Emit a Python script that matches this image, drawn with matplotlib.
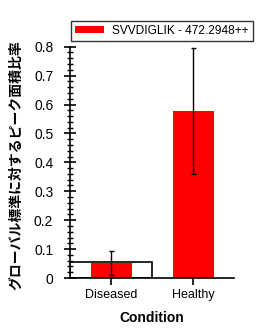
import matplotlib
matplotlib.use('Agg')
import matplotlib.pyplot as plt
from matplotlib.ticker import MultipleLocator, FuncFormatter

conditions = ['Diseased', 'Healthy']
means = [0.053, 0.577]
err_low = [0.010, 0.359]
err_high = [0.094, 0.795]
# white outlined box drawn behind the Diseased bar
box_value = [0.054]
legend_label = 'SVVDIGLIK - 472.2948++'
ylabel_text = 'グローバル標準に対するピーク面積比率'

plt.rcParams['font.family'] = ['Liberation Sans', 'Noto Sans CJK JP', 'DejaVu Sans']

fig = plt.figure(figsize=(2.72, 3.36), dpi=100)
ax = fig.add_axes([70 / 272, 1 - 278 / 336, 164 / 272, 231.3 / 336])

x = list(range(len(conditions)))
ax.bar([0], box_value, width=1.0, color='white', edgecolor='black', linewidth=1.2, zorder=1)
bars = ax.bar(x, means, width=0.5, color='#ff0000', zorder=2, label=legend_label)
yerr = [[m - lo for m, lo in zip(means, err_low)], [hi - m for m, hi in zip(means, err_high)]]
ax.errorbar(x, means, yerr=yerr, fmt='none', ecolor='black', elinewidth=1.0, capsize=1.8, capthick=1.0, zorder=3)

ax.set_xlim(-0.5, 1.5)
ax.set_ylim(0, 0.8)
ax.set_xticks(x)
ax.set_xticklabels(conditions, fontsize=9)
ax.yaxis.set_major_locator(MultipleLocator(0.1))
ax.yaxis.set_minor_locator(MultipleLocator(0.02))
ax.yaxis.set_major_formatter(FuncFormatter(lambda v, p: '%g' % round(v, 2)))
ax.tick_params(axis='y', which='major', direction='inout', length=8, width=1.2, labelsize=10, pad=8)
ax.tick_params(axis='y', which='minor', direction='inout', length=5, width=1.0)
ax.tick_params(axis='x', which='major', direction='inout', length=10, width=1.2, pad=3)

for s in ['top', 'right']:
    ax.spines[s].set_visible(False)
for s in ['left', 'bottom']:
    ax.spines[s].set_linewidth(1.2)

ax.set_xlabel('Condition', fontsize=10, fontweight='bold', labelpad=7)
ax.set_ylabel(ylabel_text, fontsize=10, fontweight='bold',
              family=['Noto Sans CJK JP', 'DejaVu Sans'])
ax.yaxis.set_label_coords(-0.285, 0.49)

leg = ax.legend(handles=[bars], labels=[legend_label], loc='upper left',
                bbox_to_anchor=(70.7 / 272, 1 - 20.7 / 336), bbox_transform=fig.transFigure,
                borderaxespad=0, fancybox=False, frameon=True, fontsize=8.6,
                handlelength=2.4, handleheight=0.6, borderpad=0.35, handletextpad=0.7)
leg.get_frame().set_edgecolor('black')
leg.get_frame().set_linewidth(1.0)

fig.savefig('out.png', dpi=100)
